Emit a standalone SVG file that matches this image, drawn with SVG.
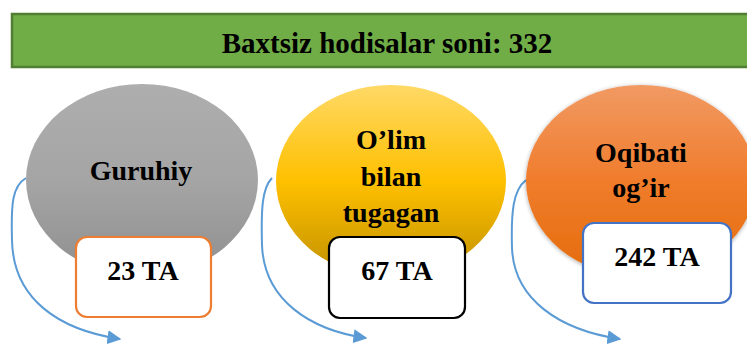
<svg xmlns="http://www.w3.org/2000/svg" width="747" height="344" viewBox="0 0 747 344">
<style>
.t{font-family:'Liberation Serif',serif;font-weight:700;fill:#000;text-anchor:middle}
.box{fill:#fff;stroke-width:2.2}
.conn{fill:none;stroke:#5B9BD5;stroke-width:2}
</style>
<defs>
<linearGradient id="gGray" x1="0" y1="0" x2="0" y2="1">
<stop offset="0" stop-color="#AEAEAE"/><stop offset="0.5" stop-color="#A5A5A5"/><stop offset="1" stop-color="#8F8F8F"/>
</linearGradient>
<linearGradient id="gYel" x1="0" y1="0" x2="0" y2="1">
<stop offset="0" stop-color="#FFD966"/><stop offset="0.5" stop-color="#FFC000"/><stop offset="1" stop-color="#C09000"/>
</linearGradient>
<linearGradient id="gOr" x1="0" y1="0" x2="0" y2="1">
<stop offset="0" stop-color="#F19A63"/><stop offset="0.5" stop-color="#F07C2C"/><stop offset="1" stop-color="#E46C0A"/>
</linearGradient>
<filter id="sh" x="-10%" y="-10%" width="120%" height="120%">
<feGaussianBlur in="SourceAlpha" stdDeviation="2"/>
<feOffset dx="0" dy="1" result="b"/>
<feFlood flood-color="#000" flood-opacity="0.35"/>
<feComposite in2="b" operator="in"/>
<feMerge><feMergeNode/><feMergeNode in="SourceGraphic"/></feMerge>
</filter>
<marker id="arr" viewBox="0 0 10 10" refX="9" refY="5" markerWidth="7" markerHeight="7" orient="auto" markerUnits="strokeWidth">
<path d="M0,0 L10,5 L0,10 z" fill="#5B9BD5"/>
</marker>
</defs>
<rect width="747" height="344" fill="#fff"/>
<g id="banner">
<rect x="12" y="14" width="745" height="53" fill="#70AD47" stroke="#507E32" stroke-width="2.5"/>
<text class="t" font-family="Liberation Serif, serif" x="387" y="53" font-size="29">Baxtsiz hodisalar soni: 332</text>
</g>
<g id="connectors">
<path class="conn" d="M26 178 C12 186,11 205,12 240 C13 300,60 330,120 339" marker-end="url(#arr)"/>
<path class="conn" d="M272 178 C262 188,261 210,262 245 C264 300,310 330,366 338" marker-end="url(#arr)"/>
<path class="conn" d="M526 180 C513 190,511 212,512 248 C514 300,560 330,620 339" marker-end="url(#arr)"/>
</g>
<g id="node-guruhiy" font-family="Liberation Serif, serif">
<ellipse cx="142" cy="180" rx="116" ry="96" fill="url(#gGray)"/>
<text class="t" x="141" y="180" font-size="28">Guruhiy</text>
</g>
<g id="node-olim" font-family="Liberation Serif, serif">
<ellipse cx="391" cy="181" rx="115" ry="96" fill="url(#gYel)"/>
<text class="t" x="391" y="149" font-size="28">O’lim</text>
<text class="t" x="391" y="186" font-size="28">bilan</text>
<text class="t" x="391" y="222" font-size="28">tugagan</text>
</g>
<g id="node-oqibati" font-family="Liberation Serif, serif">
<ellipse cx="641" cy="181" rx="115" ry="96" fill="url(#gOr)" filter="url(#sh)"/>
<text class="t" x="641" y="162" font-size="28">Oqibati</text>
<text class="t" x="641" y="197" font-size="28">og’ir</text>
</g>
<g id="box-23" font-family="Liberation Serif, serif">
<rect class="box" x="76" y="237" width="135" height="80" rx="11" stroke="#ED7D31"/>
<text class="t" x="143" y="280" font-size="28">23 TA</text>
</g>
<g id="box-67" font-family="Liberation Serif, serif">
<rect class="box" x="329" y="237" width="136" height="81" rx="11" stroke="#000"/>
<text class="t" x="397" y="280" font-size="28">67 TA</text>
</g>
<g id="box-242" font-family="Liberation Serif, serif">
<rect class="box" x="583" y="223" width="148" height="80" rx="11" stroke="#4472C4"/>
<text class="t" x="657" y="266" font-size="28">242 TA</text>
</g>
</svg>
